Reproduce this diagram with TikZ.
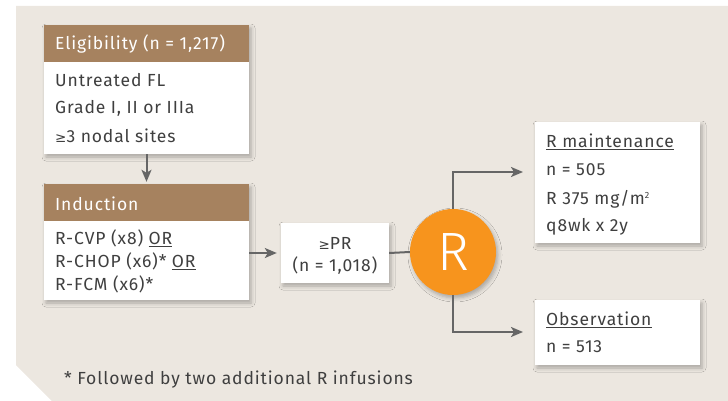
\documentclass[tikz,border=0pt]{standalone}
\usepackage{fontspec}
\setmainfont[LetterSpace=5]{Fira Sans}
\newfontfamily\symfont{DejaVu Sans}
\newfontfamily\bigfont{Fira Sans Light}
\usetikzlibrary{shadows.blur,arrows.meta}
\definecolor{panel}{HTML}{ECE7E0}
\definecolor{hdr}{HTML}{A6825F}
\definecolor{ink}{HTML}{3F3F3F}
\definecolor{wire}{HTML}{666666}
\definecolor{rnd}{HTML}{F7941D}
\newcommand{\gesym}{{\symfont\fontsize{13.5}{14}\selectfont ≥}}
\newcommand{\supsmall}[1]{\raisebox{5.5pt}{\fontsize{9}{9}\selectfont #1}}
\tikzset{
  card/.style={draw=none, fill=white, inner sep=0pt,
    blur shadow={shadow xshift=2pt, shadow yshift=-3pt, shadow blur radius=4pt, shadow opacity=28}},
  head/.style={draw=none, fill=hdr, inner sep=0pt},
  txt/.style={anchor=west, text=ink, inner sep=0pt, font=\fontsize{17.5}{20}\selectfont},
  htxt/.style={txt, text=white},
  ctxt/.style={anchor=center, text=ink, inner sep=0pt, font=\fontsize{17.5}{20}\selectfont},
  wireline/.style={draw=wire, line width=2pt},
  conn/.style={wireline, -{Stealth[length=12pt,width=10pt,inset=3pt]}},
}
\begin{document}
\begin{tikzpicture}[x=1pt,y=-1pt]
\useasboundingbox (0,0) rectangle (728,401);
% panel with clipped lower-left corner
\fill[panel] (16,6) -- (728,6) -- (728,401) -- (52,401) -- (16,365) -- cycle;

% eligibility card
\node[card, minimum width=205pt, minimum height=129pt] (elig) at (146.5,89.5) {};
\node[head, minimum width=205pt, minimum height=37pt] (eligHead) at (146.5,43.5) {};
\node[htxt] (eligTitle) at (55,44) {Eligibility (n = 1,217)};
\node[txt] (e1) at (55,80) {Untreated FL};
\node[txt] (e2) at (55,108) {Grade I, II or IIIa};
\node[txt] (e3) at (55,136) {\gesym3 nodal sites};

% induction card
\node[card, minimum width=205pt, minimum height=116pt] (ind) at (146.5,242) {};
\node[head, minimum width=205pt, minimum height=37pt] (indHead) at (146.5,202.5) {};
\node[htxt] (indTitle) at (55,204) {Induction};
\node[txt] (i1) at (55,238) {R-CVP (x8) \underline{OR}};
\node[txt] (i2) at (55,261) {R-CHOP (x6)* \underline{OR}};
\node[txt] (i3) at (55,284) {R-FCM (x6)*};

% responders
\node[card, minimum width=108pt, minimum height=60pt] (pr) at (335,253) {};
\node[ctxt] (pr1) at (335,243) {\gesym PR};
\node[ctxt] (pr2) at (335,266) {(n = 1,018)};

% randomisation
\node[circle, fill=rnd, minimum size=86pt, inner sep=0pt, text=white,
  font=\bigfont\fontsize{54}{54}\selectfont,
  blur shadow={shadow xshift=2pt, shadow yshift=-3pt, shadow blur radius=4pt, shadow opacity=28}] (R) at (453,252) {R};

% maintenance arm
\node[card, minimum width=165pt, minimum height=121pt] (rm) at (617.5,182.5) {};
\node[txt] (m1) at (546,142) {\underline{R maintenance}};
\node[txt] (m2) at (546,170) {n = 505};
\node[txt] (m3) at (546,199) {R 375 mg/m\supsmall{2}};
\node[txt] (m4) at (546,227) {q8wk x 2y};

% observation arm
\node[card, minimum width=165pt, minimum height=65pt] (obs) at (617.5,332.5) {};
\node[txt] (o1) at (546,320) {\underline{Observation}};
\node[txt] (o2) at (546,347) {n = 513};

% footnote
\node[txt] (note) at (64,380) {* Followed by two additional R infusions};

% connectors
\coordinate (upEnd) at (523,172);
\coordinate (downEnd) at (523,332);
\draw[conn, shorten >=2pt] (elig.south) -- (ind.north);
\draw[conn, shorten >=4pt] (ind.east |- pr.west) -- (pr.west);
\draw[wireline] (pr.east) -- (R.west);
\draw[conn] (R.north) |- (upEnd);
\draw[conn] (R.south) |- (downEnd);
\end{tikzpicture}
\end{document}
